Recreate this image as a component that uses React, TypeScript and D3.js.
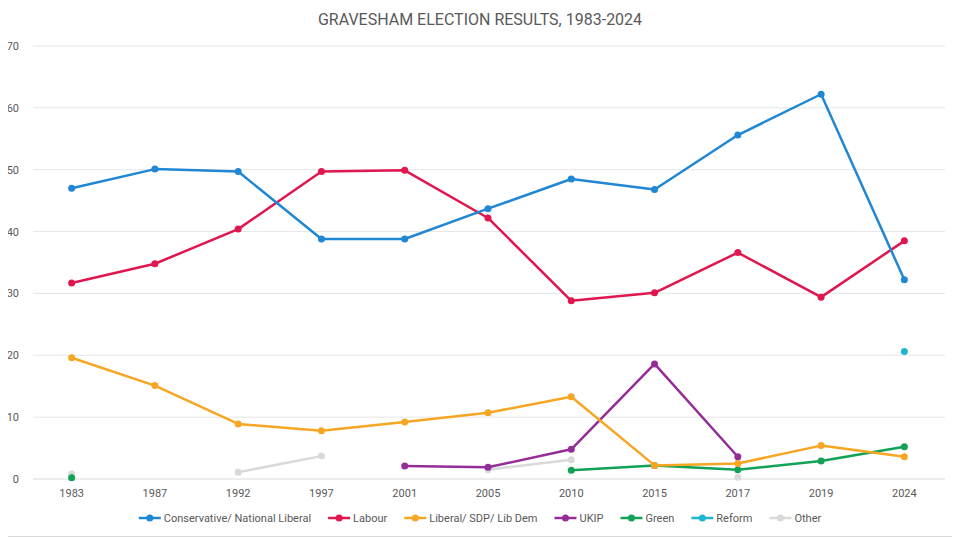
import { useEffect, useRef } from 'react';
import * as d3 from 'd3';

const years = ['1983', '1987', '1992', '1997', '2001', '2005', '2010', '2015', '2017', '2019', '2024'];

const conservative = [47.0, 50.1, 49.7, 38.8, 38.8, 43.7, 48.5, 46.8, 55.6, 62.2, 32.2];
const labour = [31.7, 34.8, 40.4, 49.7, 49.9, 42.2, 28.8, 30.1, 36.6, 29.4, 38.5];
const libDem = [19.6, 15.1, 8.9, 7.8, 9.2, 10.7, 13.3, 2.2, 2.5, 5.4, 3.6];
const ukip = [null, null, null, null, 2.1, 1.9, 4.8, 18.6, 3.6, null, null];
const green = [0.2, null, null, null, null, null, 1.4, 2.2, 1.5, 2.9, 5.2];
const reform = [null, null, null, null, null, null, null, null, null, null, 20.6];
const other = [0.8, null, 1.1, 3.7, null, 1.5, 3.1, null, 0.3, null, null];

const yTicks = [0, 10, 20, 30, 40, 50, 60, 70];

const series = [
  { name: 'Conservative/ National Liberal', values: conservative, color: '#1f87d3' },
  { name: 'Labour', values: labour, color: '#e0164f' },
  { name: 'Liberal/ SDP/ Lib  Dem', values: libDem, color: '#f6a623' },
  { name: 'UKIP', values: ukip, color: '#952d98' },
  { name: 'Green', values: green, color: '#11a157' },
  { name: 'Reform', values: reform, color: '#1eb4d2' },
  { name: 'Other', values: other, color: '#d9d9d9' },
];

const FONT = '"Liberation Sans Narrow", "Roboto", "Liberation Sans", sans-serif';

export default function App() {
  const ref = useRef<SVGSVGElement | null>(null);

  useEffect(() => {
    if (!ref.current) return;
    const width = 960;
    const height = 537;
    const svg = d3.select(ref.current);
    svg.selectAll('*').remove();

    svg
      .append('rect')
      .attr('x', 0.5)
      .attr('y', 0.5)
      .attr('width', width - 1)
      .attr('height', height - 1)
      .attr('fill', '#fff')
      .attr('stroke', '#d9d9d9');

    const x = d3.scalePoint<string>().domain(years).range([30, 946]).padding(0.5);
    const y = d3.scaleLinear().domain([0, 70]).range([479, 46]);

    svg
      .append('text')
      .attr('x', width / 2)
      .attr('y', 25)
      .attr('text-anchor', 'middle')
      .attr('font-family', FONT)
      .attr('font-size', 16)
      .attr('fill', '#595959')
      .text('GRAVESHAM ELECTION RESULTS, 1983-2024');

    const grid = svg.append('g');
    grid
      .selectAll('line')
      .data(yTicks)
      .join('line')
      .attr('x1', 33)
      .attr('x2', 945)
      .attr('y1', (d) => y(d))
      .attr('y2', (d) => y(d))
      .attr('stroke', (d) => (d === 0 ? '#d9d9d9' : '#e6e6e6'))
      .attr('stroke-width', 1);

    grid
      .selectAll('text')
      .data(yTicks)
      .join('text')
      .attr('x', 19)
      .attr('y', (d) => y(d) + 4)
      .attr('text-anchor', 'end')
      .attr('font-family', FONT)
      .attr('font-size', 11)
      .attr('fill', '#595959')
      .text((d) => d);

    svg
      .append('g')
      .selectAll('text')
      .data(years)
      .join('text')
      .attr('x', (d) => x(d)!)
      .attr('y', 497)
      .attr('text-anchor', 'middle')
      .attr('font-family', FONT)
      .attr('font-size', 11)
      .attr('fill', '#595959')
      .text((d) => d);

    const line = d3
      .line<number | null>()
      .defined((d) => d != null)
      .x((_, i) => x(years[i])!)
      .y((d) => y(d as number));

    const plot = svg.append('g');
    [...series].reverse().forEach((s) => {
      const g = plot.append('g');
      g.append('path')
        .attr('d', line(s.values))
        .attr('fill', 'none')
        .attr('stroke', s.color)
        .attr('stroke-width', 2.5)
        .attr('stroke-linejoin', 'round');
      g.selectAll('circle')
        .data(s.values.map((v, i) => ({ v, i })).filter((d) => d.v != null))
        .join('circle')
        .attr('cx', (d) => x(years[d.i])!)
        .attr('cy', (d) => y(d.v as number))
        .attr('r', 3.5)
        .attr('fill', s.color);
    });

    const legend = svg.append('g');
    let cx = 0;
    series.forEach((s) => {
      const item = legend.append('g').attr('transform', `translate(${cx},0)`);
      item.append('line').attr('x1', 0).attr('x2', 22).attr('stroke', s.color).attr('stroke-width', 2.5);
      item.append('circle').attr('cx', 11).attr('r', 3.5).attr('fill', s.color);
      const t = item
        .append('text')
        .attr('x', 25)
        .attr('y', 4)
        .attr('font-family', FONT)
        .attr('font-size', 11)
        .attr('fill', '#595959')
        .text(s.name);
      const w = (t.node() as SVGTextElement).getComputedTextLength();
      cx += 25 + w + 17;
    });
    const total = cx - 17;
    legend.attr('transform', `translate(${(width - total) / 2},518)`);
  }, []);

  return (
    <div style={{ width: 960, height: 537 }}>
      <svg ref={ref} width={960} height={537} style={{ display: 'block', marginLeft: -8, marginTop: -8 }} />
    </div>
  );
}
